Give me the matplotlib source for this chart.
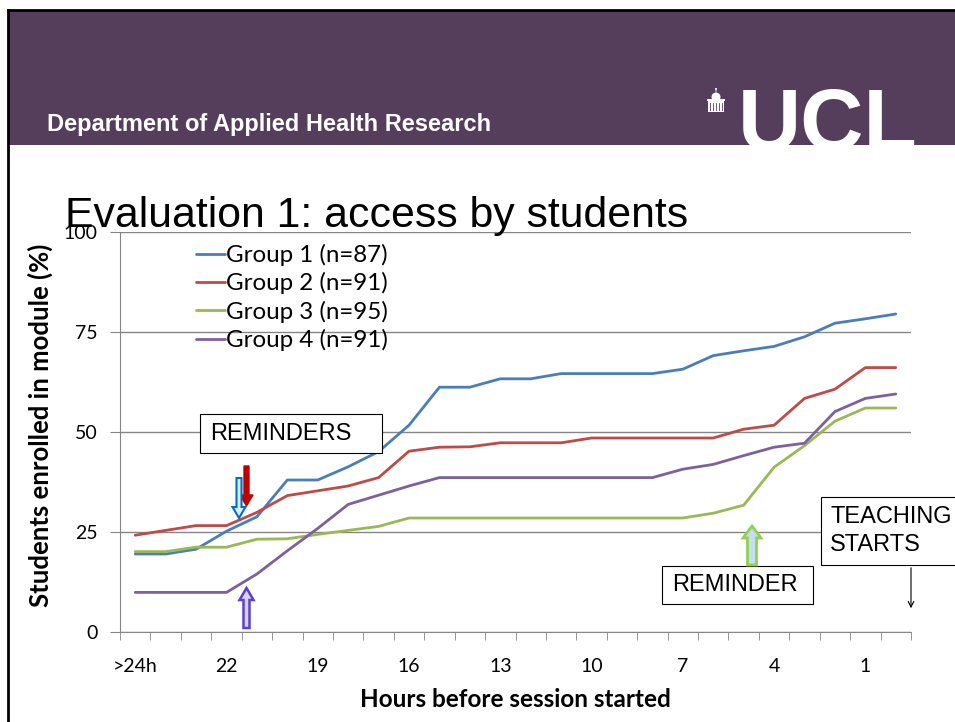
import matplotlib
matplotlib.use('Agg')
import matplotlib.pyplot as plt
from matplotlib.patches import Rectangle, FancyArrow, Circle, Polygon

plt.rcParams['font.family'] = ['Lato', 'DejaVu Sans']

# categories (hours before session)
hours = ['>24h', '24', '23', '22', '21', '20', '19', '18', '17', '16', '15', '14', '13',
         '12', '11', '10', '9', '8', '7', '6', '5', '4', '3', '2', '1', '0']
shown = ['>24h', '22', '19', '16', '13', '10', '7', '4', '1']

# % of students enrolled in module
group1 = [19.5, 19.5, 20.7, 25.2, 28.8, 38.0, 38.0, 41.3, 45.1, 51.7, 61.2, 61.2, 63.3,
          63.3, 64.6, 64.6, 64.6, 64.6, 65.7, 69.1, 70.3, 71.4, 73.8, 77.2, 78.3, 79.5]
group2 = [24.2, 25.4, 26.6, 26.6, 29.9, 34.1, 35.3, 36.5, 38.6, 45.2, 46.2, 46.3, 47.3,
          47.3, 47.3, 48.5, 48.5, 48.5, 48.5, 48.5, 50.7, 51.7, 58.4, 60.7, 66.1, 66.1]
group3 = [20.1, 20.1, 21.2, 21.2, 23.2, 23.3, 24.4, 25.4, 26.4, 28.5, 28.5, 28.5, 28.5,
          28.5, 28.5, 28.5, 28.5, 28.5, 28.5, 29.7, 31.7, 41.2, 46.6, 52.7, 56.0, 56.0]
group4 = [9.9, 9.9, 9.9, 9.9, 14.5, 20.3, 25.9, 31.9, 34.2, 36.5, 38.6, 38.6, 38.6,
          38.6, 38.6, 38.6, 38.6, 38.6, 40.7, 41.9, 44.1, 46.2, 47.2, 55.1, 58.4, 59.5]
labels = ['Group 1 (n=87)', 'Group 2 (n=91)', 'Group 3 (n=95)', 'Group 4 (n=91)']
colors = ['#4A7EBB', '#BE4B48', '#98B954', '#7D60A0']

W, H = 955, 722
fig = plt.figure(figsize=(W / 100, H / 100), dpi=100)
fig.patch.set_facecolor('white')

ax = fig.add_axes([120 / W, 90 / H, 791 / W, 400 / H])
x = list(range(len(hours)))
for vals, lab, col in zip([group1, group2, group3, group4], labels, colors):
    ax.plot(x, vals, color=col, lw=2.0, label=lab, solid_capstyle='round')

ax.set_xlim(-0.5, len(hours) - 0.5)
ax.set_ylim(0, 100)
ax.set_yticks([0, 25, 50, 75, 100])
ax.yaxis.grid(True, color='#868686', lw=1)
ax.set_axisbelow(True)
for s in ['top', 'right']:
    ax.spines[s].set_visible(False)
for s in ['left', 'bottom']:
    ax.spines[s].set_color('#868686')
ax.tick_params(axis='y', length=7, color='#868686', labelsize=14, pad=9)

pos = [hours.index(h) for h in shown]
ax.set_xticks(pos)
ax.set_xticklabels(shown)
ax.set_xticks([i - 0.5 for i in range(len(hours) + 1)], minor=True)
ax.tick_params(axis='x', which='major', length=0, labelsize=14, pad=19)
ax.tick_params(axis='x', which='minor', length=6, color='#868686')

ax.set_xlabel('Hours before session started', fontsize=17.5, fontweight='bold', labelpad=9)
ax.set_ylabel('Students enrolled in module (%)', fontsize=18.5, fontweight='bold')
ax.yaxis.set_label_coords(-0.085, 0.5175)

ax.legend(loc='upper left', bbox_to_anchor=(0.096, 0.97), frameon=False, fontsize=17.4,
          handlelength=1.2, handletextpad=0.05, labelspacing=0.26, borderpad=0,
          borderaxespad=0)

# slide decorations in pixel coordinates
ov = fig.add_axes([0, 0, 1, 1])
ov.set_xlim(0, W)
ov.set_ylim(H, 0)
ov.axis('off')
ov.set_zorder(5)

ov.add_patch(Rectangle((8, 10), W - 8, 135, facecolor='#553E5C', edgecolor='none'))
ov.plot([8, W], [10, 10], color='black', lw=2)
ov.text(47, 131, 'Department of Applied Health Research', color='white', fontsize=17,
        fontweight='bold', family='Liberation Sans', va='baseline')
ov.text(738, 150, 'UCL', color='white', fontsize=63, fontweight='bold',
        family='Liberation Sans', va='baseline')
# small building icon beside the logo
ov.add_patch(Rectangle((708, 101), 16, 11, facecolor='white', edgecolor='none'))
ov.add_patch(Rectangle((707, 99), 18, 2, facecolor='white', edgecolor='none'))
ov.add_patch(Circle((716, 97), 4.5, facecolor='white', edgecolor='none'))
ov.add_patch(Polygon([(715, 88), (717, 88), (716, 93)], closed=True, facecolor='white'))
for cx in [710, 713, 716, 719, 722]:
    ov.plot([cx, cx], [103, 110], color='#553E5C', lw=0.6)
ov.add_patch(Rectangle((0, 145), W, 20, facecolor='white', edgecolor='none'))
ov.plot([8, 8], [10, H], color='black', lw=2)

ov.text(65, 227, 'Evaluation 1: access by students', fontsize=30.8,
        family='Liberation Sans', va='baseline', color='black')

# text boxes
ov.add_patch(Rectangle((200, 414), 182, 39, facecolor='white', edgecolor='black', lw=0.8))
ov.text(210, 434, 'REMINDERS', fontsize=17, family='Liberation Sans', va='center')
ov.add_patch(Rectangle((662, 566), 151, 38, facecolor='white', edgecolor='black', lw=0.8))
ov.text(672, 585, 'REMINDER', fontsize=17, family='Liberation Sans', va='center')
ov.add_patch(Rectangle((821, 497), 150, 68, facecolor='white', edgecolor='black', lw=0.8))
ov.text(830, 531, 'TEACHING\nSTARTS', fontsize=17, family='Liberation Sans', va='center',
        linespacing=1.3)
ov.annotate('', xy=(911, 611), xytext=(911, 565),
            arrowprops=dict(arrowstyle='->', lw=0.8, color='black'))

# block arrows
ov.add_patch(FancyArrow(246.5, 466, 0, 40, width=5, head_width=13, head_length=11,
                        length_includes_head=True, fc='#C00000', ec='#C00000'))
ov.add_patch(FancyArrow(239, 478, 0, 40, width=5, head_width=13, head_length=11,
                        length_includes_head=True, fc='#DDEBF7', ec='#0070C0', lw=1.5))
ov.add_patch(FancyArrow(246.5, 628, 0, -40, width=6, head_width=14, head_length=12,
                        length_includes_head=True, fc='#D9D2F0', ec='#5B3FD6', lw=1.8))
ov.add_patch(FancyArrow(752, 565, 0, -39, width=9, head_width=18, head_length=12,
                        length_includes_head=True, fc='#C5DDF0', ec='#92D050', lw=2))

fig.savefig('out.png', dpi=100)
